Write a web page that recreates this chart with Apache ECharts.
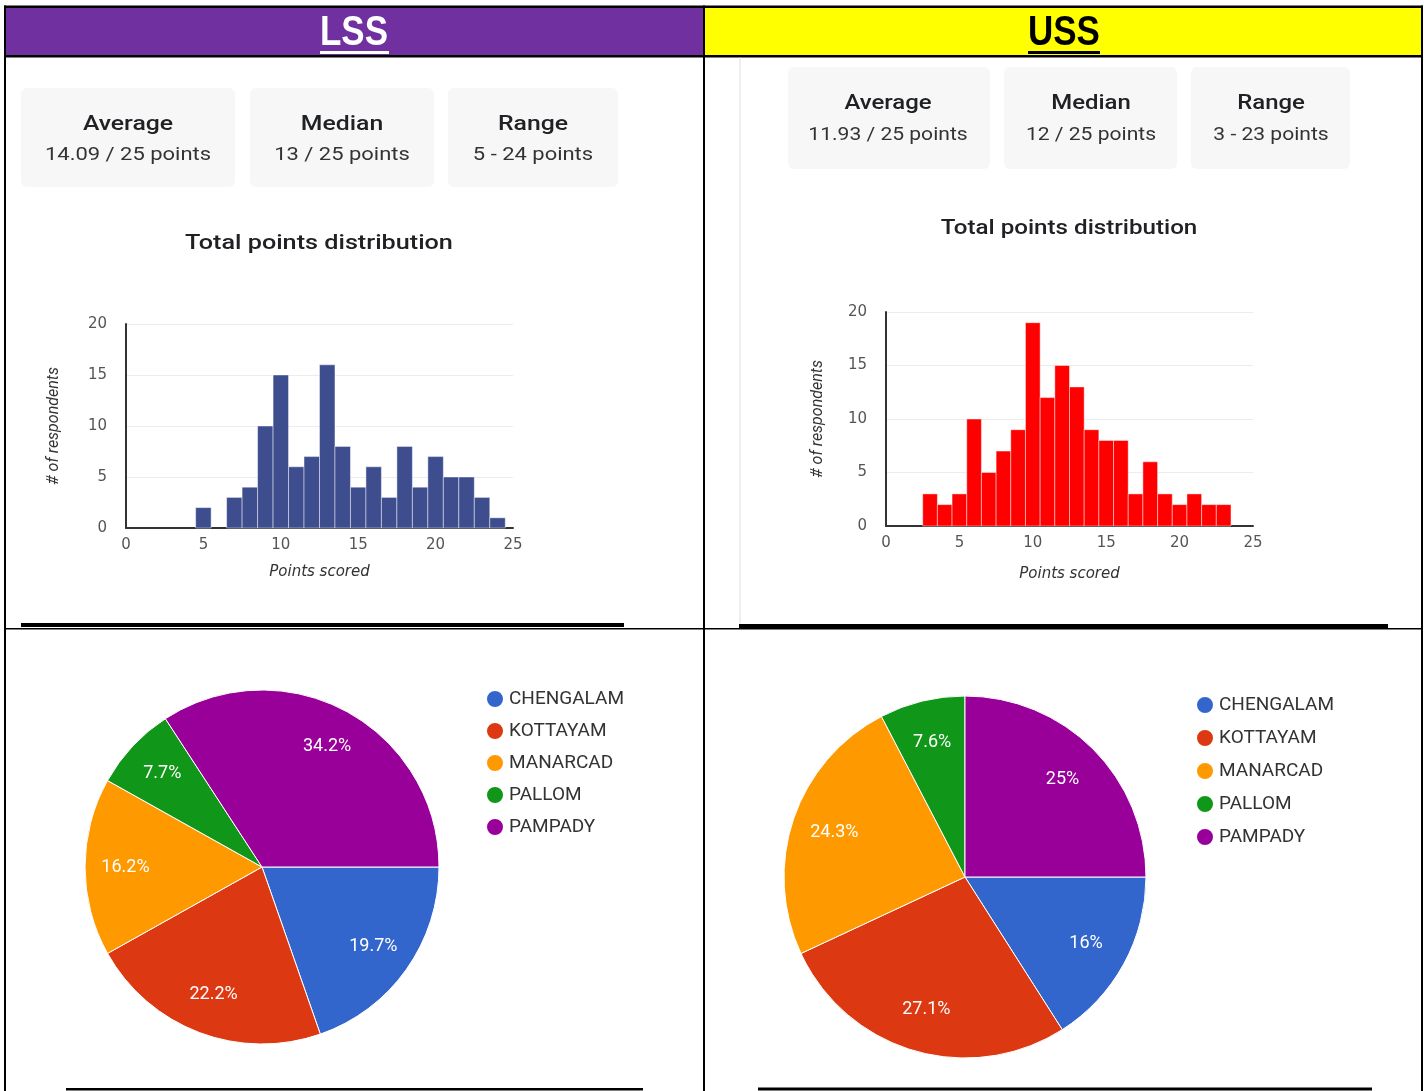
<!DOCTYPE html>
<html><head><meta charset="utf-8">
<script src="https://cdn.jsdelivr.net/npm/echarts@6/dist/echarts.min.js"></script>
<style>html,body{margin:0;padding:0;background:#fff}#c{width:1424px;height:1091px}</style>
</head><body><div id="c"></div>
<script>
// ---- data ----
const lssScores = [5, 7, 8, 9, 10, 11, 12, 13, 14, 15, 16, 17, 18, 19, 20, 21, 22, 23, 24];
const lssCounts = [2, 3, 4, 10, 15, 6, 7, 16, 8, 4, 6, 3, 8, 4, 7, 5, 5, 3, 1];
const ussScores = [3, 4, 5, 6, 7, 8, 9, 10, 11, 12, 13, 14, 15, 16, 17, 18, 19, 20, 21, 22, 23];
const ussCounts = [3, 2, 3, 10, 5, 7, 9, 19, 12, 15, 13, 9, 8, 8, 3, 6, 3, 2, 3, 2, 2];
const regions = ['CHENGALAM', 'KOTTAYAM', 'MANARCAD', 'PALLOM', 'PAMPADY'];
const lssRegionCounts = [23, 26, 19, 9, 40];
const ussRegionCounts = [23, 39, 35, 11, 36];
const statLabels = ['Average', 'Median', 'Range'];
const lssStatValues = ['14.09 / 25 points', '13 / 25 points', '5 - 24 points'];
const ussStatValues = ['11.93 / 25 points', '12 / 25 points', '3 - 23 points'];
const headers = ['LSS', 'USS'];
const chartTitle = 'Total points distribution';
const yAxisTitle = '# of respondents';
const xAxisTitle = 'Points scored';

// ---- styles ----
const pieColors = ['#3366CC', '#DC3912', '#FF9900', '#109618', '#990099'];
const FONT = 'Roboto, "Noto Sans", Arial, sans-serif';
const WIDE = '"DejaVu Sans", Roboto, sans-serif';
const HEAD = '"Liberation Sans", Arial, sans-serif';

const chart = echarts.init(document.getElementById('c'), null, {renderer: 'canvas'});

function histItem(color) {
  return function (params, api) {
    const x = api.value(0), n = api.value(1);
    const p0 = api.coord([x - 0.5, n]);
    const p1 = api.coord([x + 0.5, 0]);
    return {
      type: 'rect',
      shape: {x: p0[0], y: p0[1], width: p1[0] - p0[0], height: p1[1] - p0[1]},
      style: {fill: color, stroke: 'rgba(255,255,255,0.45)', lineWidth: 1}
    };
  };
}

function xAxisCfg(gridIndex, nameGap) {
  return {
    gridIndex, type: 'value', min: 0, max: 25, interval: 5,
    name: xAxisTitle, nameLocation: 'middle', nameGap,
    nameTextStyle: {fontStyle: 'italic', fontSize: 15, color: '#333', fontFamily: WIDE},
    axisLine: {show: true, onZero: true, lineStyle: {color: '#333', width: 2}},
    axisTick: {show: false}, splitLine: {show: false},
    axisLabel: {color: '#555', fontSize: 15, margin: 10, fontFamily: WIDE}
  };
}
function yAxisCfg(gridIndex, nameGap) {
  return {
    gridIndex, type: 'value', min: 0, max: 20, interval: 5,
    name: yAxisTitle, nameLocation: 'middle', nameGap, nameRotate: 90,
    nameTextStyle: {fontStyle: 'italic', fontSize: 16, color: '#333', fontFamily: FONT},
    axisLine: {show: true, lineStyle: {color: '#333', width: 2}},
    axisTick: {show: false},
    splitLine: {show: true, lineStyle: {color: '#ececec', width: 1}},
    axisLabel: {color: '#555', fontSize: 15, margin: 19, fontFamily: WIDE}
  };
}

function txt(text, x, y, font, fill, sx, sy) {
  return {type: 'text', silent: true, z: 10, x, y, scaleX: sx || 1, scaleY: sy || 1,
    style: {text, x: 0, y: 0, font, fill: fill || '#222', textAlign: 'center', textVerticalAlign: 'middle', align: 'center', verticalAlign: 'middle'}};
}
function rect(x, y, w, h, fill, r) {
  return {type: 'rect', silent: true, z: 5, shape: {x, y, width: w, height: h, r: r || 0}, style: {fill}};
}

const graphics = [];
// header fills
graphics.push(rect(6, 8, 697, 47, '#7030A0'));
graphics.push(rect(705, 8, 716, 47, '#FFFF00'));
// header texts & underlines
graphics.push(txt(headers[0], 354, 33, 'bold 38px ' + HEAD, '#ffffff', 0.92, 1.1));
graphics.push(rect(320, 51, 69, 3, '#ffffff'));
graphics.push(txt(headers[1], 1064, 33, 'bold 38px ' + HEAD, '#000000', 0.92, 1.1));
graphics.push(rect(1028, 51, 72, 3, '#000000'));
// table borders
graphics.push(rect(4, 5.5, 1419, 2.5, '#000'));
graphics.push(rect(4, 55, 1419, 2.5, '#000'));
graphics.push(rect(4, 5.5, 2, 1086, '#000'));
graphics.push(rect(703, 5.5, 2, 1086, '#000'));
graphics.push(rect(1421, 5.5, 2, 1086, '#000'));
graphics.push(rect(4, 628, 1419, 1.5, '#000'));
// screenshot edge lines
graphics.push(rect(21, 623, 603, 4, '#000'));
graphics.push(rect(739, 624, 649, 5, '#000'));
graphics.push(rect(66, 1088, 577, 2.5, '#000'));
graphics.push(rect(758, 1087.5, 614, 3, '#000'));
graphics.push(rect(739.5, 57.5, 1, 566, '#dddddd'));

// stat cards
const lssCards = [[21, 88, 214, 99, 128], [250, 88, 184, 99, 342], [448, 88, 170, 99, 533]];
const ussCards = [[788, 67, 202, 102, 888], [1004, 67, 173, 102, 1091], [1191, 67, 159, 102, 1271]];
lssCards.forEach((c, i) => {
  graphics.push(rect(c[0], c[1], c[2], c[3], '#f7f7f7', 6));
  graphics.push(txt(statLabels[i], c[4], 125, '500 21px ' + FONT, '#202124', 1.18));
  graphics.push(txt(lssStatValues[i], c[4], 155, '18px ' + FONT, '#333', 1.22));
});
ussCards.forEach((c, i) => {
  graphics.push(rect(c[0], c[1], c[2], c[3], '#f7f7f7', 6));
  graphics.push(txt(statLabels[i], c[4], 104, '500 21px ' + FONT, '#202124', 1.14));
  graphics.push(txt(ussStatValues[i], c[4], 135, '18px ' + FONT, '#333', 1.17));
});
// chart titles
graphics.push(txt(chartTitle, 319, 244, '500 21px ' + FONT, '#202124', 1.2));
graphics.push(txt(chartTitle, 1069, 229, '500 21px ' + FONT, '#202124', 1.15));

function pct(p) { return (Math.round(p.percent * 10) / 10) + '%'; }
function pieData(counts) { return regions.map((n, i) => ({name: n, value: counts[i]})); }

function pieSeries(center, r, counts, labelR0) {
  return [
    {type: 'pie', center, radius: [0, r], startAngle: 0, clockwise: true, silent: true,
     data: pieData(counts), label: {show: false}, labelLine: {show: false},
     itemStyle: {borderColor: '#fff', borderWidth: 1}},
    {type: 'pie', center, radius: [labelR0, r], startAngle: 0, clockwise: true, silent: true, z: 3,
     data: pieData(counts), itemStyle: {color: 'rgba(0,0,0,0)', borderWidth: 0},
     labelLine: {show: false},
     label: {show: true, position: 'inside', color: '#fff', fontSize: 18, fontFamily: FONT, formatter: pct}}
  ];
}

const legendBase = {
  orient: 'vertical', icon: 'circle', itemWidth: 18, itemHeight: 18, padding: 0,
  selectedMode: false, data: regions,
  textStyle: {fontSize: 19, color: '#333', fontFamily: FONT}
};

const option = {
  animation: false,
  color: pieColors,
  grid: [
    {left: 126, top: 324, width: 387, height: 204},
    {left: 886, top: 312, width: 367, height: 214}
  ],
  xAxis: [xAxisCfg(0, 37), xAxisCfg(1, 41)],
  yAxis: [yAxisCfg(0, 64), yAxisCfg(1, 60)],
  legend: [
    Object.assign({}, legendBase, {left: 485, top: 689, itemGap: 12}),
    Object.assign({}, legendBase, {left: 1195, top: 695, itemGap: 13})
  ],
  graphic: {elements: graphics},
  series: [
    {type: 'custom', xAxisIndex: 0, yAxisIndex: 0, encode: {x: 0, y: 1},
     data: lssScores.map((s, i) => [s, lssCounts[i]]), renderItem: histItem('#3d4d8e'), silent: true},
    {type: 'custom', xAxisIndex: 1, yAxisIndex: 1, encode: {x: 0, y: 1},
     data: ussScores.map((s, i) => [s, ussCounts[i]]), renderItem: histItem('#ff0000'), silent: true}
  ].concat(pieSeries([262, 867], 177, lssRegionCounts, 90))
   .concat(pieSeries([965, 877], 181, ussRegionCounts, 89))
};
chart.setOption(option);
</script>
</body></html>
